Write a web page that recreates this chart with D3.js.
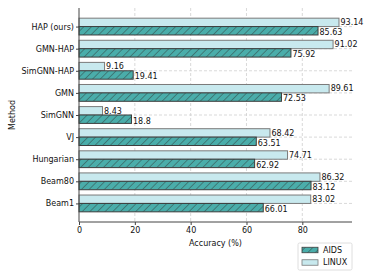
<!DOCTYPE html>
<html>
<head>
<meta charset="utf-8">
<script src="https://cdn.jsdelivr.net/npm/d3@7"></script>
<style>
  body { margin: 0; background: #fff; }
  svg { display: block; font-family: "DejaVu Sans", sans-serif; }
</style>
</head>
<body>
<div id="chart"></div>
<script>
const methods = ['HAP (ours)', 'GMN-HAP', 'SimGNN-HAP', 'GMN', 'SimGNN', 'VJ', 'Hungarian', 'Beam80', 'Beam1'];
const linuxValues = [93.14, 91.02, 9.16, 89.61, 8.43, 68.42, 74.71, 86.32, 83.02];
const aidsValues = [85.63, 75.92, 19.41, 72.53, 18.8, 63.51, 62.92, 83.12, 66.01];
const xTicks = [0, 20, 40, 60, 80];

const width = 374, height = 280;
const margin = { top: 8, right: 22, bottom: 58, left: 79 };
const innerW = width - margin.left - margin.right;
const innerH = height - margin.top - margin.bottom;

const colors = { AIDS: '#4aadaa', LINUX: '#c8e9ee' };

const svg = d3.select('#chart')
    .append('svg')
    .attr('width', width)
    .attr('height', height);

// hatch pattern for AIDS ("//")
const defs = svg.append('defs');
const pat = defs.append('pattern')
    .attr('id', 'hatch')
    .attr('patternUnits', 'userSpaceOnUse')
    .attr('width', 5.4)
    .attr('height', 5.4)
    .attr('patternTransform', 'rotate(45)');
pat.append('rect')
    .attr('width', 5.4).attr('height', 5.4)
    .attr('fill', colors.AIDS);
pat.append('line')
    .attr('x1', 0).attr('y1', 0).attr('x2', 0).attr('y2', 5.4)
    .attr('stroke', '#2f3b3b')
    .attr('stroke-width', 0.9);

const g = svg.append('g')
    .attr('transform', `translate(${margin.left},${margin.top})`);

const x = d3.scaleLinear()
    .domain([0, 97.8])
    .range([0, innerW]);

const y = d3.scalePoint()
    .domain(methods)
    .range([0, innerH])
    .padding(0.84);

const barH = y.step() * 0.38;

// grid lines
g.append('g').selectAll('line')
    .data(xTicks.slice(1))
    .join('line')
    .attr('x1', d => x(d)).attr('x2', d => x(d))
    .attr('y1', 0).attr('y2', innerH)
    .attr('stroke', '#cfcfcf')
    .attr('stroke-width', 0.8)
    .attr('stroke-dasharray', '3,2');

g.append('g').selectAll('line')
    .data(methods)
    .join('line')
    .attr('x1', 0).attr('x2', innerW)
    .attr('y1', d => y(d)).attr('y2', d => y(d))
    .attr('stroke', '#cfcfcf')
    .attr('stroke-width', 0.8)
    .attr('stroke-dasharray', '3,2');

// bars
const rows = methods.map((m, i) => ({ method: m, linux: linuxValues[i], aids: aidsValues[i] }));

g.append('g').selectAll('rect')
    .data(rows)
    .join('rect')
    .attr('x', x(0))
    .attr('y', d => y(d.method) - barH)
    .attr('width', d => x(d.linux) - x(0))
    .attr('height', barH)
    .attr('fill', colors.LINUX)
    .attr('stroke', '#7a7a7a')
    .attr('stroke-width', 1);

g.append('g').selectAll('rect')
    .data(rows)
    .join('rect')
    .attr('x', x(0))
    .attr('y', d => y(d.method))
    .attr('width', d => x(d.aids) - x(0))
    .attr('height', barH)
    .attr('fill', 'url(#hatch)')
    .attr('stroke', '#3d3d3d')
    .attr('stroke-width', 1);

// value labels
const labels = g.append('g')
    .attr('font-size', 8)
    .attr('fill', '#111');

labels.selectAll('text.linux')
    .data(rows)
    .join('text')
    .attr('class', 'linux')
    .attr('x', d => x(d.linux) + 1.5)
    .attr('y', d => y(d.method) - barH / 2)
    .attr('dy', '0.35em')
    .text(d => d.linux);

labels.selectAll('text.aids')
    .data(rows)
    .join('text')
    .attr('class', 'aids')
    .attr('x', d => x(d.aids) + 1.5)
    .attr('y', d => y(d.method) + barH / 2 + 1.5)
    .attr('dy', '0.35em')
    .text(d => d.aids);

// axes
const xAxis = g.append('g')
    .attr('transform', `translate(0,${innerH})`)
    .call(d3.axisBottom(x).tickValues(xTicks).tickSize(3).tickPadding(2));

const yAxis = g.append('g')
    .call(d3.axisLeft(y).tickSize(3).tickPadding(2));

[xAxis, yAxis].forEach(a => {
    a.attr('font-family', '"DejaVu Sans", sans-serif').attr('font-size', 8);
    a.selectAll('text').attr('fill', '#111');
    a.selectAll('.tick line').attr('stroke', '#444');
    a.select('.domain').attr('stroke', '#444').attr('stroke-width', 1);
});
xAxis.select('.domain').attr('d', `M0,0H${innerW}`);
yAxis.select('.domain').attr('d', `M0,0V${innerH}`);

// axis titles
svg.append('text')
    .attr('x', margin.left + innerW / 2)
    .attr('y', margin.top + innerH + 24)
    .attr('text-anchor', 'middle')
    .attr('font-size', 8)
    .attr('fill', '#111')
    .text('Accuracy (%)');

svg.append('text')
    .attr('transform', `translate(12,${margin.top + innerH / 2}) rotate(-90)`)
    .attr('text-anchor', 'middle')
    .attr('dy', '0.35em')
    .attr('font-size', 8)
    .attr('fill', '#111')
    .text('Method');

// legend
const legend = svg.append('g')
    .attr('transform', `translate(${margin.left + innerW - 54},243)`);

legend.append('rect')
    .attr('width', 54).attr('height', 27)
    .attr('rx', 1.5)
    .attr('fill', '#fff')
    .attr('stroke', '#d6d6d6')
    .attr('stroke-width', 0.8);

const legendItems = [
    { name: 'AIDS', fill: 'url(#hatch)', stroke: '#3d3d3d' },
    { name: 'LINUX', fill: colors.LINUX, stroke: '#7a7a7a' }
];

const li = legend.selectAll('g.item')
    .data(legendItems)
    .join('g')
    .attr('class', 'item')
    .attr('transform', (d, i) => `translate(4,${7 + i * 12.5})`);

li.append('rect')
    .attr('width', 16).attr('height', 5.5)
    .attr('y', -2.75)
    .attr('fill', d => d.fill)
    .attr('stroke', d => d.stroke)
    .attr('stroke-width', 0.8);

li.append('text')
    .attr('x', 21)
    .attr('dy', '0.35em')
    .attr('font-size', 8)
    .attr('fill', '#111')
    .text(d => d.name);
</script>
</body>
</html>
